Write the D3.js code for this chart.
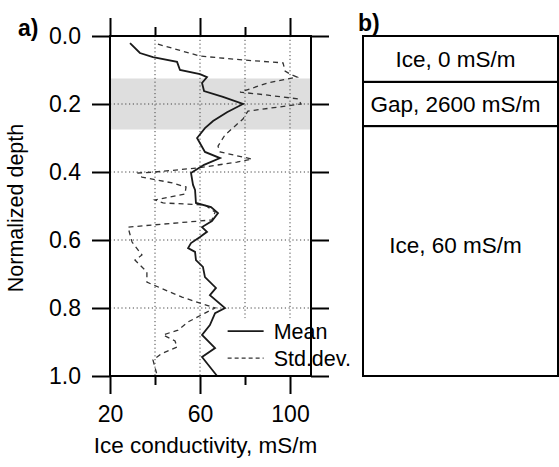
<!DOCTYPE html>
<meta charset='utf-8'>
<style>
body { margin: 0; background: #fff; }
svg text { font: 22.5px 'Liberation Sans', Arial, sans-serif; fill: #000; }
.tick line, .frame { stroke: #000; stroke-width: 2px; }
.frame { fill: none; }
.grid line { stroke: #444; stroke-width: 1px; stroke-dasharray: 1.2,2.6; }
.band { fill: #dedede; }
.mean { fill: none; stroke: #1a1a1a; stroke-width: 1.8px; }
.sd { fill: none; stroke: #333; stroke-width: 1.3px; stroke-dasharray: 5,4; }
.panel-label { font-weight: bold; font-size: 23px; }
</style>
<body>
<script src='https://d3js.org/d3.v7.min.js'></script>
<script>
'use strict'

// Data

let meanDepth = [0.021, 0.050, 0.062, 0.076, 0.100, 0.112, 0.121, 0.138, 0.162, 0.179,
	0.200, 0.224, 0.250, 0.271, 0.300, 0.341, 0.359, 0.379, 0.403, 0.438,
	0.453, 0.491, 0.503, 0.521, 0.544, 0.562, 0.576, 0.591, 0.609, 0.624,
	0.635, 0.659, 0.679, 0.709, 0.741, 0.762, 0.800, 0.815, 0.850, 0.879,
	0.918, 0.944, 1.0]
let meanCond = [28.9, 33.3, 39.1, 49.8, 51.1, 60.0, 63.1, 60.9, 61.8, 70.2,
	79.1, 72.0, 65.8, 62.2, 58.7, 62.2, 68.9, 61.8, 56.0, 56.9,
	57.8, 58.2, 64.9, 68.0, 65.3, 60.9, 63.1, 60.0, 56.0, 54.7,
	57.8, 58.2, 61.3, 62.2, 67.1, 64.4, 71.1, 66.7, 64.4, 60.9,
	66.7, 60.9, 67.6]

let sdDepth = [0.024, 0.059, 0.071, 0.079, 0.103, 0.112, 0.121, 0.138, 0.165, 0.174,
	0.185, 0.200, 0.221, 0.244, 0.291, 0.324, 0.341, 0.362, 0.371, 0.388,
	0.400, 0.403, 0.415, 0.432, 0.444, 0.465, 0.482, 0.491, 0.497, 0.518,
	0.541, 0.547, 0.562, 0.606, 0.644, 0.659, 0.694, 0.724, 0.768, 0.800,
	0.815, 0.841, 0.865, 0.879, 0.897, 0.915, 0.935, 0.953, 0.997]
let sdCond = [41.3, 60.0, 80.0, 96.9, 97.8, 100.0, 103.1, 90.2, 77.8, 90.2,
	103.6, 104.9, 81.3, 79.1, 71.1, 68.0, 68.9, 83.1, 76.4, 59.1,
	40.0, 32.4, 34.2, 47.6, 53.8, 53.3, 40.0, 43.6, 62.2, 66.7,
	65.3, 54.7, 28.0, 29.8, 34.2, 31.1, 36.4, 36.4, 52.0, 66.7,
	62.2, 54.7, 50.2, 43.6, 48.9, 49.8, 42.7, 39.1, 40.9]

let gapBand = [0.125, 0.275]

let layerNames = ['Ice, 0 mS/m', 'Gap, 2600 mS/m', 'Ice, 60 mS/m'],
	layerTop = [0, 0.135, 0.265],
	layerBottom = [0.135, 0.265, 1.0]

let xMajor = [20, 60, 100], xMinor = [40, 80], xGrid = [40, 60, 80, 100],
	yTicks = [0, 0.2, 0.4, 0.6, 0.8, 1.0], yGrid = [0.2, 0.4, 0.6, 0.8]

let legendNames = ['Mean', 'Std.dev.']


// Layout

let W = 559, H = 467,
	margin = {top: 36, left: 110},
	width = 201, height = 340,
	x = d3.scaleLinear().domain([20, 109.33]).range([0, width]),
	y = d3.scaleLinear().domain([0, 1]).range([0, height])

let svg = d3.select('body').append('svg').attr('width', W).attr('height', H)
let vis = svg.append('g').attr('transform', `translate(${margin.left},${margin.top})`)


// Panel a

vis.append('rect').attr('class', 'band')
	.attr('x', 0).attr('width', width)
	.attr('y', y(gapBand[0])).attr('height', y(gapBand[1]) - y(gapBand[0]))

vis.append('g').attr('class', 'grid').call(s => {
	s.selectAll('.gx').data(xGrid).enter().append('line')
		.attr('x1', d => x(d)).attr('x2', d => x(d)).attr('y1', 0).attr('y2', height)
	s.selectAll('.gy').data(yGrid).enter().append('line')
		.attr('y1', d => y(d)).attr('y2', d => y(d)).attr('x1', 0).attr('x2', width) })

let line = d3.line().x(d => x(d[1])).y(d => y(d[0]))
vis.append('path').attr('class', 'sd').attr('d', line(d3.zip(sdDepth, sdCond)))
vis.append('path').attr('class', 'mean').attr('d', line(d3.zip(meanDepth, meanCond)))

// legend box (white, covers grid)
let leg = vis.append('g').attr('transform', `translate(${x(70.5)},${y(0.83)})`)
leg.append('rect').attr('width', width - x(70.5)).attr('height', height - y(0.83) - 1).attr('fill', '#fff')
legendNames.forEach((name, i) => {
	let gy = 13 + i * 27
	leg.append('line').attr('class', i ? 'sd' : 'mean')
		.attr('x1', 4).attr('x2', 40).attr('y1', gy).attr('y2', gy)
		.style('stroke-dasharray', i ? '4,3' : null)
	leg.append('text').attr('x', 50).attr('y', gy).attr('dy', '0.35em')
		.style('font-size', '21.5px').text(name)
})

// axes: ticks outward on all four sides
let noDomain = s => s.select('.domain').remove()
let fmtY = d3.format('.1f')
let bigText = s => s.selectAll('text').style('font-size', '23px').style('font-family', null)

vis.append('g').call(d3.axisLeft(y).tickValues(yTicks).tickSize(18).tickPadding(11).tickFormat(fmtY))
	.call(noDomain).call(bigText)
vis.append('g').attr('transform', `translate(${width},0)`)
	.call(d3.axisRight(y).tickValues(yTicks).tickSize(18).tickFormat('')).call(noDomain)
vis.append('g').attr('transform', `translate(0,${height})`)
	.call(d3.axisBottom(x).tickValues(xMajor).tickSize(18).tickPadding(12))
	.call(noDomain).call(bigText)
vis.append('g').attr('transform', `translate(0,${height})`)
	.call(d3.axisBottom(x).tickValues(xMinor).tickSize(9).tickFormat('')).call(noDomain)
vis.append('g').call(d3.axisTop(x).tickValues(xMajor).tickSize(18).tickFormat('')).call(noDomain)
vis.append('g').call(d3.axisTop(x).tickValues(xMinor).tickSize(9).tickFormat('')).call(noDomain)

vis.append('rect').attr('class', 'frame').attr('width', width).attr('height', height)

vis.append('text').attr('x', width / 2 - 5).attr('y', height + 77)
	.style('text-anchor', 'middle').text('Ice conductivity, mS/m')
vis.append('text').attr('transform', `translate(${-87},${height / 2 + 2}) rotate(-90)`)
	.style('text-anchor', 'middle').style('font-size', '21.5px').text('Normalized depth')

svg.append('text').attr('class', 'panel-label').attr('x', 18).attr('y', 36).text('a)')


// Panel b

let bx = 363, bw = 195
let pb = svg.append('g').attr('transform', `translate(${bx},${margin.top})`)
layerNames.forEach((name, i) => {
	pb.append('rect').attr('class', 'frame')
		.attr('x', 0).attr('width', bw)
		.attr('y', y(layerTop[i])).attr('height', y(layerBottom[i]) - y(layerTop[i]))
	pb.append('text').attr('x', bw / 2 - 5)
		.attr('y', (y(layerTop[i]) + y(layerBottom[i])) / 2 - (i == 2 ? 6 : 0))
		.attr('dy', '0.35em').style('text-anchor', 'middle').text(name)
})
svg.append('text').attr('class', 'panel-label').attr('x', 358).attr('y', 31).text('b)')

</script>
</body>
